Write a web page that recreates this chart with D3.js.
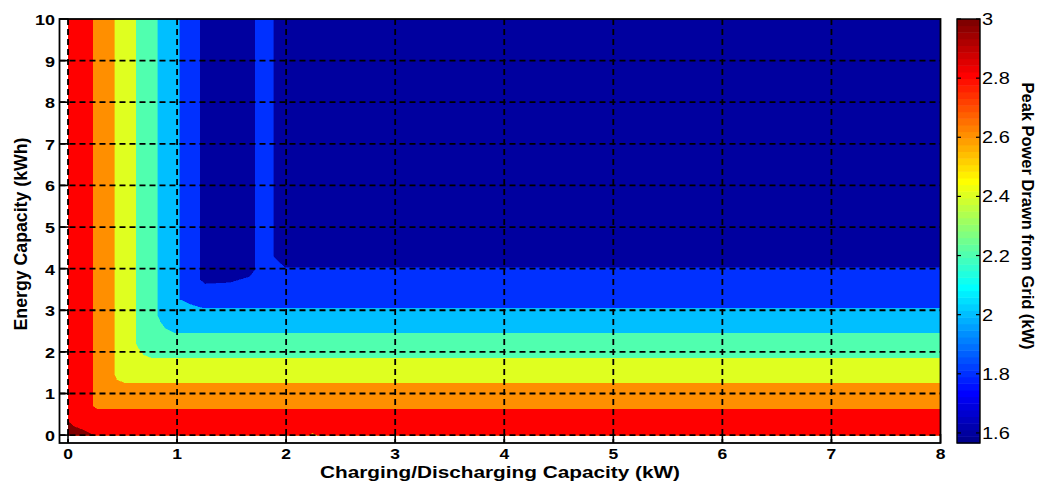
<!DOCTYPE html>
<html>
<head>
<meta charset="utf-8">
<script src="https://cdn.jsdelivr.net/npm/d3@7"></script>
<style>
  html, body { margin: 0; padding: 0; background: #fff; }
  svg { display: block; }
  text { font-family: "Liberation Sans", Arial, Helvetica, sans-serif; fill: #000; }
</style>
</head>
<body>
<svg id="chart" width="1041" height="482"></svg>
<script>
// Axis ticks
const xTicks = [0, 1, 2, 3, 4, 5, 6, 7, 8];
const yTicks = [0, 1, 2, 3, 4, 5, 6, 7, 8, 9, 10];
const cTicks = [1.6, 1.8, 2.0, 2.2, 2.4, 2.6, 2.8, 3.0];
const cTickLabels = ["1.6", "1.8", "2", "2.2", "2.4", "2.6", "2.8", "3"];

// Colour range of the peak grid power (kW)
const cRange = [1.566, 3.0];

// Contour levels of peak power (kW)
const levels = [1.6, 1.8, 2.0, 2.2, 2.4, 2.6, 2.8, 3.0];

// Outline of the region where peak power >= each level,
// as [charging capacity kW, energy capacity kWh] vertices
const region16 = [[0, 0], [8, 0], [8, 10], [0, 10]];
const region18 = [[0, 0], [8, 0], [8, 4.02], [1.99, 4.02], [1.882, 4.286], [1.882, 10],
  [1.715, 10], [1.715, 3.966], [1.669, 3.805], [1.577, 3.733], [1.486, 3.66],
  [1.256, 3.63], [1.21, 3.73], [1.21, 10], [0, 10]];
const region20 = [[0, 0], [8, 0], [8, 3.046], [1.24, 3.046], [1.134, 3.125],
  [1.02, 3.26], [1.02, 10], [0, 10]];
const region22 = [[0, 0], [8, 0], [8, 2.445], [0.98, 2.445], [0.889, 2.565],
  [0.844, 2.724], [0.819, 2.885], [0.819, 10], [0, 10]];
const region24 = [[0, 0], [8, 0], [8, 1.844], [0.767, 1.844], [0.691, 1.923],
  [0.645, 2.084], [0.621, 2.204], [0.621, 10], [0, 10]];
const region26 = [[0, 0], [8, 0], [8, 1.243], [0.523, 1.243], [0.446, 1.322],
  [0.425, 1.466], [0.425, 10], [0, 10]];
const region28 = [[0, 0], [2.21, 0], [2.245, 0.06], [2.28, 0], [8, 0], [8, 0.625],
  [0.263, 0.625], [0.226, 0.697], [0.226, 10], [0, 10]];
const region30 = [[0, 0], [0, 0.33], [0.03, 0.27], [0.05, 0.21], [0.14, 0.12],
  [0.22, 0.02], [0.24, 0]];
const regions = [region16, region18, region20, region22, region24, region26, region28, region30];

// Axis limits
const xLim = [-0.078, 8];
const yLim = [-0.19, 10];

const svg = d3.select("#chart");
const box = { left: 59.5, right: 940.5, top: 19, bottom: 443 };
const cbar = { left: 957, right: 980, top: 19, bottom: 443 };

const x = d3.scaleLinear().domain(xLim).range([box.left, box.right]);
const y = d3.scaleLinear().domain(yLim).range([box.bottom, box.top]);
const cy = d3.scaleLinear().domain(cRange).range([cbar.bottom, cbar.top]);

// 64-entry jet colormap
function jet(i) {
  const r = i <= 24 ? 0 : i <= 40 ? (i - 24) / 16 : i <= 55 ? 1 : (72 - i) / 16;
  const g = i <= 8 ? 0 : i <= 24 ? (i - 8) / 16 : i <= 39 ? 1 : i <= 55 ? (56 - i) / 16 : 0;
  const b = i <= 8 ? (i + 8) / 16 : i <= 23 ? 1 : i <= 39 ? (40 - i) / 16 : 0;
  return d3.rgb(r * 255, g * 255, b * 255).formatHex();
}
const nColors = 64;
function colorOf(v) {
  const t = (v - cRange[0]) / (cRange[1] - cRange[0]);
  const idx = Math.min(nColors, Math.max(1, Math.floor(t * nColors + 1e-9) + 1));
  return jet(idx);
}

// White background
svg.append("rect").attr("width", 1041).attr("height", 482).attr("fill", "#fff");

// Filled contours
const line = d3.line().x(d => x(d[0])).y(d => y(d[1])).curve(d3.curveLinearClosed);
svg.append("g").selectAll("path")
  .data(levels.map((lv, i) => ({ level: lv, pts: regions[i] })))
  .join("path")
  .attr("d", d => line(d.pts))
  .attr("fill", d => colorOf(d.level))
  .attr("stroke", d => colorOf(d.level))
  .attr("stroke-width", 0.6)
  .attr("shape-rendering", "crispEdges");

// Dashed grid
const grid = svg.append("g").attr("stroke", "#000").attr("stroke-width", 1.8)
  .attr("stroke-dasharray", "6,4").attr("fill", "none");
grid.selectAll("line.v").data(xTicks.filter(t => t < 8)).join("line")
  .attr("class", "v")
  .attr("x1", d => x(d)).attr("x2", d => x(d))
  .attr("y1", box.top).attr("y2", box.bottom);
grid.selectAll("line.h").data(yTicks.filter(t => t < 10)).join("line")
  .attr("class", "h")
  .attr("x1", box.left).attr("x2", box.right)
  .attr("y1", d => y(d)).attr("y2", d => y(d));

// Tick marks
const ticks = svg.append("g").attr("stroke", "#000").attr("stroke-width", 1.6);
ticks.selectAll("line.xt").data(xTicks).join("line").attr("class", "xt")
  .attr("x1", d => x(d)).attr("x2", d => x(d))
  .attr("y1", box.bottom).attr("y2", box.bottom - 9);
ticks.selectAll("line.yt").data(yTicks).join("line").attr("class", "yt")
  .attr("x1", box.left).attr("x2", box.left + 9)
  .attr("y1", d => y(d)).attr("y2", d => y(d));

// Axes box
svg.append("rect")
  .attr("x", box.left).attr("y", box.top)
  .attr("width", box.right - box.left).attr("height", box.bottom - box.top)
  .attr("fill", "none").attr("stroke", "#000").attr("stroke-width", 1.8);

// Text drawn with a horizontal stretch
function stretchedText(parent, px, py, str, opts) {
  const g = parent.append("g")
    .attr("transform", `translate(${px},${py}) scale(${opts.sx || 1},1) rotate(${opts.rotate || 0})`);
  const t = g.append("text")
    .attr("text-anchor", opts.anchor || "middle")
    .attr("font-size", opts.size)
    .attr("font-weight", opts.weight || "normal")
    .text(str);
  if (opts.length) t.attr("textLength", opts.length).attr("lengthAdjust", "spacingAndGlyphs");
  return g;
}

// Tick labels
const labels = svg.append("g");
xTicks.forEach(t => stretchedText(labels, x(t), 459, String(t),
  { size: 14, weight: "bold", sx: 1.25 }));
yTicks.forEach(t => stretchedText(labels, 55, y(t) + 6, String(t),
  { size: 15, weight: "bold", sx: 1.2, anchor: "end" }));

// Axis titles
stretchedText(svg, (box.left + box.right) / 2, 478, "Charging/Discharging Capacity (kW)",
  { size: 16, weight: "bold", length: 360 });
stretchedText(svg, 27, 234, "Energy Capacity (kWh)",
  { size: 17, weight: "bold", length: 193, rotate: -90, sx: 1.1 });

// Colorbar
const step = (cRange[1] - cRange[0]) / nColors;
svg.append("g").selectAll("rect")
  .data(d3.range(1, nColors + 1))
  .join("rect")
  .attr("x", cbar.left)
  .attr("width", cbar.right - cbar.left)
  .attr("y", i => cy(cRange[0] + i * step))
  .attr("height", i => cy(cRange[0] + (i - 1) * step) - cy(cRange[0] + i * step) + 0.5)
  .attr("fill", i => jet(i));
const cticks = svg.append("g").attr("stroke", "#000").attr("stroke-width", 1.2);
cticks.selectAll("line.l").data(cTicks).join("line").attr("class", "l")
  .attr("x1", cbar.left).attr("x2", cbar.left + 4)
  .attr("y1", d => cy(d)).attr("y2", d => cy(d));
cticks.selectAll("line.r").data(cTicks).join("line").attr("class", "r")
  .attr("x1", cbar.right - 4).attr("x2", cbar.right)
  .attr("y1", d => cy(d)).attr("y2", d => cy(d));
svg.append("rect")
  .attr("x", cbar.left).attr("y", cbar.top)
  .attr("width", cbar.right - cbar.left).attr("height", cbar.bottom - cbar.top)
  .attr("fill", "none").attr("stroke", "#000").attr("stroke-width", 1.4);
cTicks.forEach((t, i) => stretchedText(svg, 982, cy(t) + 6, cTickLabels[i],
  { size: 16, sx: 1.25, anchor: "start" }));
stretchedText(svg, 1022, 216, "Peak Power Drawn from Grid (kW)",
  { size: 16, weight: "bold", length: 267, rotate: 90 });
</script>
</body>
</html>
